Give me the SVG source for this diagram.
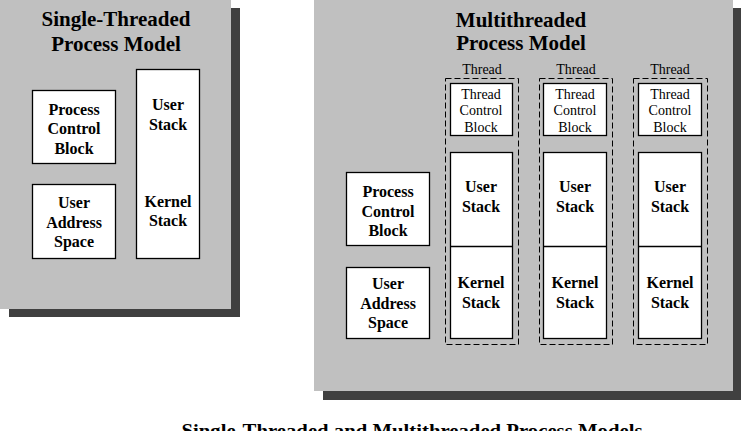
<svg xmlns="http://www.w3.org/2000/svg" width="741" height="431" viewBox="0 0 741 431">
<style>
.panel{fill:#c0c0c0}
.shadow{fill:#404040}
.box{fill:#fff;stroke:#000;stroke-width:1.3}
.dash{fill:none;stroke:#000;stroke-width:1;stroke-dasharray:6,3}
text{font-family:'Liberation Serif','DejaVu Serif','Times New Roman',serif;fill:#000;text-anchor:middle}
.title{font-size:21px;font-weight:bold}
.b{font-size:16px;font-weight:bold}
.n{font-size:14px}
</style>
<rect width="741" height="431" fill="#fff"/>
<g id="single-panel">
<rect class="shadow" x="9" y="8" width="231" height="309"/>
<rect class="panel" x="0" y="0" width="231" height="309"/>
<text class="title" x="116" y="26">Single-Threaded</text>
<text class="title" x="116" y="51">Process Model</text>
</g>
<g id="single-pcb">
<rect class="box" x="32.5" y="90.5" width="83" height="73"/>
<text class="b" x="74" y="115">Process</text>
<text class="b" x="74" y="134">Control</text>
<text class="b" x="74" y="154">Block</text>
</g>
<g id="single-uas">
<rect class="box" x="32.5" y="184.5" width="83" height="74"/>
<text class="b" x="74" y="208">User</text>
<text class="b" x="74" y="228">Address</text>
<text class="b" x="74" y="247">Space</text>
</g>
<g id="single-stacks">
<rect class="box" x="136.5" y="69.5" width="63" height="189"/>
<text class="b" x="168" y="110">User</text>
<text class="b" x="168" y="130">Stack</text>
<text class="b" x="168" y="207">Kernel</text>
<text class="b" x="168" y="226">Stack</text>
</g>
<g id="multi-panel">
<rect class="shadow" x="323" y="8" width="418" height="392"/>
<rect class="panel" x="314" y="0" width="419" height="391"/>
<text class="title" x="521" y="27">Multithreaded</text>
<text class="title" x="521" y="50">Process Model</text>
</g>
<g id="multi-pcb">
<rect class="box" x="346.5" y="172.5" width="83" height="73"/>
<text class="b" x="388" y="197">Process</text>
<text class="b" x="388" y="217">Control</text>
<text class="b" x="388" y="236">Block</text>
</g>
<g id="multi-uas">
<rect class="box" x="346.5" y="267.5" width="83" height="71"/>
<text class="b" x="388" y="289">User</text>
<text class="b" x="388" y="309">Address</text>
<text class="b" x="388" y="328">Space</text>
</g>
<g id="thread1">
<text class="n" x="482" y="74">Thread</text>
<rect class="dash" x="445.5" y="78.5" width="73" height="266"/>
<rect class="box" x="450.5" y="83.5" width="62" height="52"/>
<text class="n" x="481" y="99">Thread</text>
<text class="n" x="481" y="115">Control</text>
<text class="n" x="481" y="132">Block</text>
<rect class="box" x="450.5" y="152.5" width="62" height="186"/>
<line x1="450.5" y1="246.5" x2="512.5" y2="246.5" stroke="#000" stroke-width="1.3"/>
<text class="b" x="481" y="192">User</text>
<text class="b" x="481" y="212">Stack</text>
<text class="b" x="481" y="288">Kernel</text>
<text class="b" x="481" y="308">Stack</text>
</g>
<g id="thread2">
<text class="n" x="576" y="74">Thread</text>
<rect class="dash" x="539.5" y="78.5" width="73" height="266"/>
<rect class="box" x="543.5" y="83.5" width="63" height="52"/>
<text class="n" x="575" y="99">Thread</text>
<text class="n" x="575" y="115">Control</text>
<text class="n" x="575" y="132">Block</text>
<rect class="box" x="543.5" y="152.5" width="63" height="186"/>
<line x1="543.5" y1="246.5" x2="606.5" y2="246.5" stroke="#000" stroke-width="1.3"/>
<text class="b" x="575" y="192">User</text>
<text class="b" x="575" y="212">Stack</text>
<text class="b" x="575" y="288">Kernel</text>
<text class="b" x="575" y="308">Stack</text>
</g>
<g id="thread3">
<text class="n" x="670" y="74">Thread</text>
<rect class="dash" x="633.5" y="78.5" width="74" height="266"/>
<rect class="box" x="638.5" y="83.5" width="63" height="52"/>
<text class="n" x="670" y="99">Thread</text>
<text class="n" x="670" y="115">Control</text>
<text class="n" x="670" y="132">Block</text>
<rect class="box" x="638.5" y="152.5" width="63" height="186"/>
<line x1="638.5" y1="246.5" x2="701.5" y2="246.5" stroke="#000" stroke-width="1.3"/>
<text class="b" x="670" y="192">User</text>
<text class="b" x="670" y="212">Stack</text>
<text class="b" x="670" y="288">Kernel</text>
<text class="b" x="670" y="308">Stack</text>
</g>
<g id="connectors"></g>
<g id="caption">
<text x="412" y="437" style="font-size:18px;font-weight:bold" textLength="461" lengthAdjust="spacingAndGlyphs">Single-Threaded and Multithreaded Process Models</text>
</g>
</svg>
